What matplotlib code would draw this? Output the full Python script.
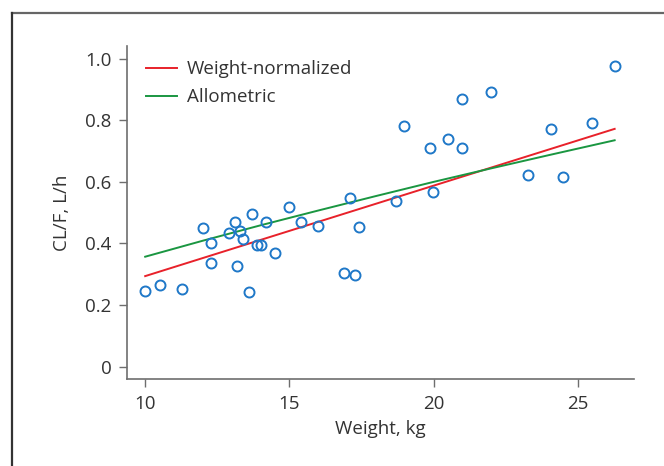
import matplotlib
matplotlib.use("Agg")
from matplotlib import pyplot as plt
from matplotlib.lines import Line2D

# observed clearance vs body weight
weight = [10.0, 10.52, 11.28, 12.0, 12.29, 12.29, 12.9, 13.1, 13.19, 13.3,
          13.4, 13.6, 13.7, 13.88, 14.02, 14.19, 14.5, 15.0, 15.4, 16.0,
          16.9, 17.09, 17.27, 17.4, 18.68, 18.98, 19.87, 19.99, 20.48, 20.99,
          20.99, 22.0, 23.28, 24.07, 24.48, 25.48, 26.27]
clearance = [0.246, 0.265, 0.252, 0.45, 0.40, 0.336, 0.434, 0.47, 0.327, 0.44,
             0.414, 0.243, 0.495, 0.395, 0.395, 0.47, 0.369, 0.519, 0.47, 0.457,
             0.304, 0.548, 0.298, 0.455, 0.538, 0.782, 0.711, 0.567, 0.740, 0.710,
             0.870, 0.892, 0.622, 0.771, 0.615, 0.791, 0.977]

# model lines
wn_x = [10.0, 26.27]
wn_y = [0.294, 0.772]
allo_x = [10.0, 12.0, 14.0, 16.0, 18.0, 20.0, 22.0, 24.0, 26.27]
allo_y = [0.357, 0.409, 0.459, 0.507, 0.554, 0.600, 0.644, 0.687, 0.735]

xticks = [10, 15, 20, 25]
yticks = [0, 0.2, 0.4, 0.6, 0.8, 1.0]
ytick_labels = ['0', '0.2', '0.4', '0.6', '0.8', '1.0']

plt.rcParams['font.family'] = ['Open Sans', 'DejaVu Sans']
text_color = '#333333'
spine_color = '#6e6e6e'
fs = 13.5

fig = plt.figure(figsize=(6.64, 4.66), dpi=100)
ax = fig.add_axes([127 / 664, 1 - 378.7 / 466, (633.7 - 127) / 664, (378.7 - 46) / 466])

ax.plot(weight, clearance, 'o', mfc='none', mec='#1f78c8', mew=1.4, ms=7.2, zorder=3)
ax.plot(wn_x, wn_y, color='#e8212a', lw=1.4, label='Weight-normalized')
ax.plot(allo_x, allo_y, color='#1a9641', lw=1.4, label='Allometric')

ax.set_xlim(9.37, 26.93)
ax.set_ylim(-0.039, 1.041)
ax.set_xticks(xticks)
ax.set_yticks(yticks)
ax.set_yticklabels(ytick_labels)

for side in ['top', 'right']:
    ax.spines[side].set_visible(False)
for side in ['left', 'bottom']:
    ax.spines[side].set_color(spine_color)
    ax.spines[side].set_linewidth(1.2)
ax.tick_params(direction='out', length=6, width=1.0, color=spine_color,
               labelsize=fs, labelcolor=text_color)
ax.tick_params(axis='x', pad=6)
ax.tick_params(axis='y', pad=5)

ax.set_xlabel('Weight, kg', fontsize=fs, color=text_color, labelpad=5)
ax.set_ylabel('CL/F, L/h', fontsize=fs, color=text_color, labelpad=10)

leg = ax.legend(loc='upper left', frameon=False, fontsize=fs,
                handlelength=1.65, handletextpad=0.55, labelspacing=0.55,
                borderaxespad=0.3, bbox_to_anchor=(0.011, 0.997))
for t in leg.get_texts():
    t.set_color(text_color)

# outer frame, partly cut off at the right and bottom
top = 1 - 12.7 / 466
left = 11.7 / 664
fig.add_artist(Line2D([left, 1.0], [top, top], transform=fig.transFigure,
                      color='#666666', lw=1.6))
fig.add_artist(Line2D([left, left], [0.0, top], transform=fig.transFigure,
                      color='#333333', lw=1.6))

fig.savefig('out.png', dpi=100)
plt.close(fig)
